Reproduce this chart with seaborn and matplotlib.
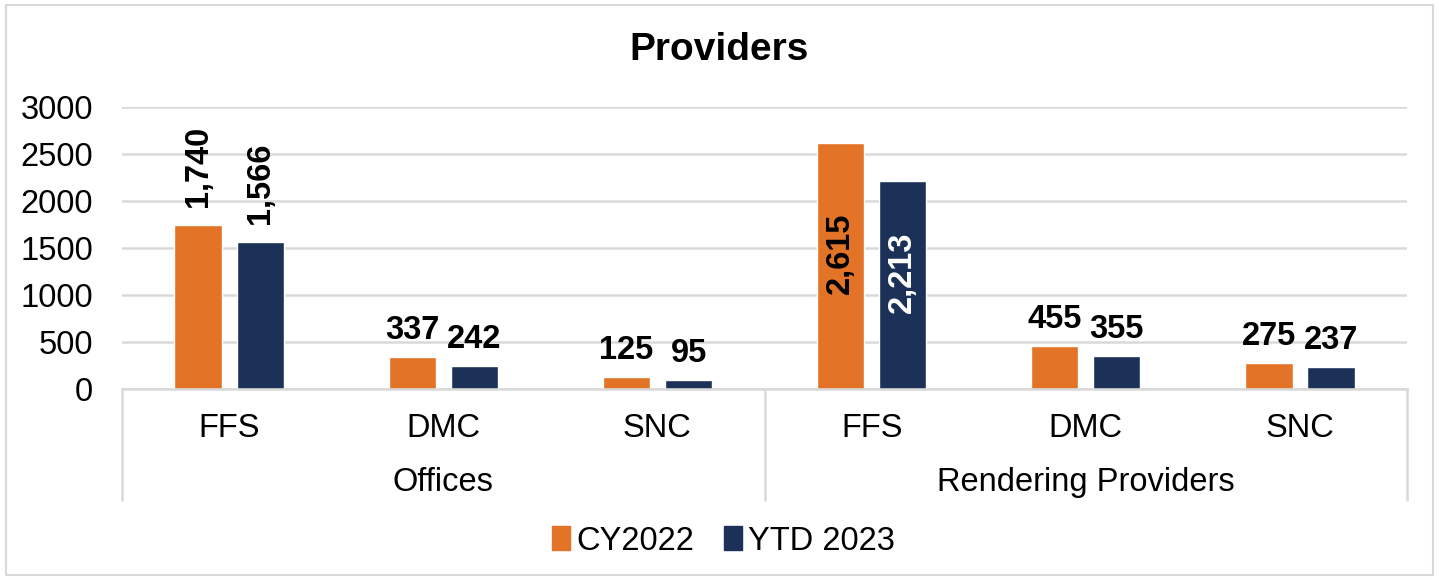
import pandas as pd
import matplotlib.pyplot as plt
import matplotlib.patches as mpatches
import seaborn as sns

# chart data
groups = ['Offices', 'Offices', 'Offices', 'Rendering Providers', 'Rendering Providers', 'Rendering Providers']
programs = ['FFS', 'DMC', 'SNC', 'FFS', 'DMC', 'SNC']
cy2022 = [1740, 337, 125, 2615, 455, 275]
ytd2023 = [1566, 242, 95, 2213, 355, 237]
series_names = ['CY2022', 'YTD 2023']
colors = ['#E37326', '#1B3158']

keys = [g + '|' + p for g, p in zip(groups, programs)]
df = pd.DataFrame({
    'key': keys * 2,
    'value': cy2022 + ytd2023,
    'series': [series_names[0]] * len(keys) + [series_names[1]] * len(keys),
})

sns.set_style('white')
plt.rcParams['font.family'] = ['Liberation Sans', 'DejaVu Sans']
plt.rcParams['text.color'] = 'black'
plt.rcParams['xtick.color'] = 'black'
plt.rcParams['ytick.color'] = 'black'

FS = 23.5

fig = plt.figure(figsize=(14.39, 5.8), dpi=100)
ax = fig.add_axes([0.0848, 0.3293, 0.8930, 0.4862])

sns.barplot(data=df, x='key', y='value', hue='series', order=keys,
            hue_order=series_names, palette=colors, saturation=1,
            width=0.58, gap=0.24, ax=ax, legend=True)

ax.set_ylim(0, 3000)
ax.set_xlim(-0.5, len(keys) - 0.5)
ax.set_yticks(range(0, 3001, 500))
ax.tick_params(axis='y', labelsize=FS, length=0, pad=21)
ax.yaxis.grid(True, color='#d9d9d9', linewidth=1.8)
ax.set_axisbelow(True)
for s in ['top', 'right', 'left']:
    ax.spines[s].set_visible(False)
ax.spines['bottom'].set_color('#d9d9d9')
ax.spines['bottom'].set_linewidth(1.8)
ax.set_xlabel('')
ax.set_ylabel('')

# sub-category labels
ax.set_xticks(range(len(keys)))
ax.set_xticklabels(programs, fontsize=FS)
ax.tick_params(axis='x', length=0, pad=17)

# group labels and separators
trans = ax.get_xaxis_transform()
for x in [-0.5, 2.5, 5.5]:
    ax.plot([x, x], [0, -0.394], transform=trans, color='#d9d9d9',
            linewidth=1.8, clip_on=False)
for i, g in enumerate(['Offices', 'Rendering Providers']):
    ax.text(1 + 3 * i, -0.333, g, transform=trans, ha='center', va='center',
            fontsize=FS)

# data labels
for cont, vals in zip(ax.containers, [cy2022, ytd2023]):
    for bar, v in zip(cont, vals):
        cx = bar.get_x() + bar.get_width() / 2
        txt = f'{v:,}'
        if v > 2000:
            tc = 'white' if bar.get_facecolor()[2] > 0.2 else 'black'
            ax.annotate(txt, (cx, v / 2), xytext=(0, 9), textcoords='offset points',
                        rotation=90, ha='center', va='center',
                        fontsize=FS, fontweight='bold', color=tc)
        elif v >= 1000:
            ax.annotate(txt, (cx, v), xytext=(0, 13), textcoords='offset points',
                        rotation=90, ha='center', va='bottom',
                        fontsize=FS, fontweight='bold')
        else:
            ax.annotate(txt, (cx, v), xytext=(0, 8), textcoords='offset points',
                        ha='center', va='bottom', fontsize=FS, fontweight='bold')

# legend
handles = [mpatches.Patch(color=c) for c in colors]
ax.legend_.remove()
fig.legend(handles, series_names, loc='center', bbox_to_anchor=(0.503, 0.067),
           ncol=2, frameon=False, fontsize=FS, handlelength=0.55,
           handleheight=0.75, handletextpad=0.2, columnspacing=0.9)

fig.text(0.5, 0.914, 'Providers', ha='center', va='center', fontsize=28,
         fontweight='bold')

# outer chart border
fig.patches.append(mpatches.Rectangle((0.004, 0.009), 0.992, 0.982,
                                      transform=fig.transFigure, fill=False,
                                      edgecolor='#d9d9d9', linewidth=1.5))

fig.savefig('out.png', dpi=100)
